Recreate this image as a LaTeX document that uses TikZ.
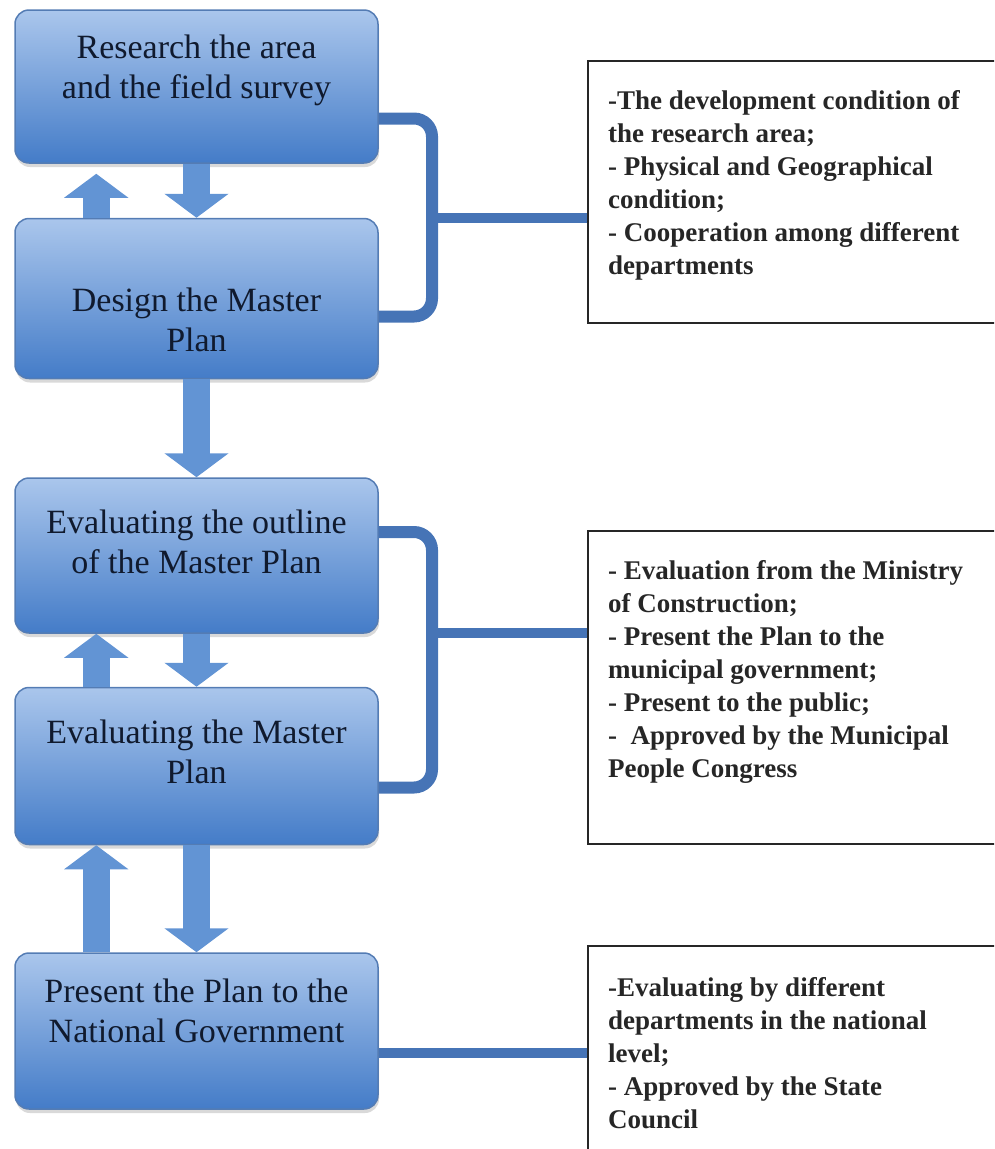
\documentclass[tikz,border=0pt]{standalone}
\usepackage{fontspec}
\setmainfont{LiberationSerif}[Extension=.ttf,UprightFont=*-Regular,BoldFont=*-Bold,ItalicFont=*-Italic,BoldItalicFont=*-BoldItalic]
\usetikzlibrary{positioning,arrows.meta,shadows}

\definecolor{boxtop}{RGB}{170,198,236}
\definecolor{boxbot}{RGB}{68,124,200}
\definecolor{boxedge}{RGB}{84,124,180}
\definecolor{arrowblue}{RGB}{98,148,212}
\definecolor{linkblue}{RGB}{70,116,182}
\definecolor{textnavy}{RGB}{16,26,46}

\begin{document}
\begin{tikzpicture}[x=1pt,y=-1pt,
    flowbox/.style={rounded corners=14pt,draw=boxedge,line width=1.5pt,top color=boxtop,bottom color=boxbot,minimum width=363pt,
      drop shadow={shadow xshift=1pt,shadow yshift=-4pt,opacity=0.3}},
    flowtext/.style={align=center,font=\fontsize{34}{40}\selectfont,text=textnavy,inner sep=0pt},
    infoframe/.style={draw=black!85,line width=2pt,minimum width=420pt,anchor=north west,inner sep=0pt},
    infotext/.style={align=left,anchor=north west,font=\bfseries\fontsize{27}{33}\selectfont,text=black!85,inner sep=0pt},
    fatarrow/.style={line width=27pt,draw=arrowblue,-{Triangle[width=63pt,length=24pt]}},
    bracket/.style={line width=12pt,draw=linkblue,rounded corners=18pt,
      preaction={draw=black,opacity=0.15,transform canvas={xshift=1pt,yshift=-3pt}}},
    linkline/.style={line width=10pt,draw=linkblue,
      preaction={draw=black,opacity=0.15,transform canvas={xshift=1pt,yshift=-3pt}}}]
\useasboundingbox (0,0) rectangle (994,1149);
\clip (0,0) rectangle (994,1149);

\node[flowbox,minimum height=153pt] (research) at (196.5,86.5) {};
\node[flowbox,minimum height=160pt,below=54pt of research] (design) {};
\node[flowbox,minimum height=155pt,below=98pt of design] (outline) {};
\node[flowbox,minimum height=157pt,below=53pt of outline] (evalplan) {};
\node[flowbox,minimum height=156pt,below=107pt of evalplan] (present) {};

\node[flowtext] at ([yshift=16.5pt]research.center) {Research the area\\and the field survey};
\node[flowtext] at ([yshift=-21.5pt]design.center) {Design the Master\\Plan};
\node[flowtext] at ([yshift=13.5pt]outline.center) {Evaluating the outline\\of the Master Plan};
\node[flowtext] at ([yshift=14.5pt]evalplan.center) {Evaluating the Master\\Plan};
\node[flowtext] at ([yshift=20pt]present.center) {Present the Plan to the\\National Government};

\node[infoframe,minimum height=262pt] (info1) at (587,60) {};
\node[infoframe,minimum height=313pt] (info2) at (587,530) {};
\node[infoframe,minimum height=230pt] (info3) at (587,945) {};

\node[infotext] at ([shift={(21pt,-30pt)}]info1.north west) {-The development condition of\\the research area;\\- Physical and Geographical\\condition;\\- Cooperation among different\\departments};
\node[infotext] at ([shift={(21pt,-30pt)}]info2.north west) {- Evaluation from the Ministry\\of Construction;\\- Present the Plan to the\\municipal government;\\- Present to the public;\\-~ Approved by the Municipal\\People Congress};
\node[infotext] at ([shift={(21pt,-32pt)}]info3.north west) {-Evaluating by different\\departments in the national\\level;\\- Approved by the State\\Council};

\draw[fatarrow] ([xshift=82pt]design.north west) -- ([xshift=82pt,yshift=-10pt]research.south west);
\draw[fatarrow] (research.south) -- (design.north);
\draw[fatarrow] (design.south) -- (outline.north);
\draw[fatarrow] ([xshift=82pt]evalplan.north west) -- ([xshift=82pt]outline.south west);
\draw[fatarrow] (outline.south) -- (evalplan.north);
\draw[fatarrow] ([xshift=82pt]present.north west) -- ([xshift=82pt]evalplan.south west);
\draw[fatarrow] (evalplan.south) -- (present.north);

\coordinate (hub1) at (432,218);
\coordinate (hub2) at (432,633);
\coordinate (tail3) at ([yshift=-22pt]present.east);
\draw[bracket] ([yshift=-32pt]research.east) -| (hub1) |- ([yshift=-18pt]design.east);
\draw[linkline] (hub1) -- (hub1 -| info1.west);
\draw[bracket] ([yshift=23.5pt]outline.east) -| (hub2) |- ([yshift=-21.5pt]evalplan.east);
\draw[linkline] (hub2) -- (hub2 -| info2.west);
\draw[linkline] (tail3) -- (tail3 -| info3.west);
\end{tikzpicture}
\end{document}
